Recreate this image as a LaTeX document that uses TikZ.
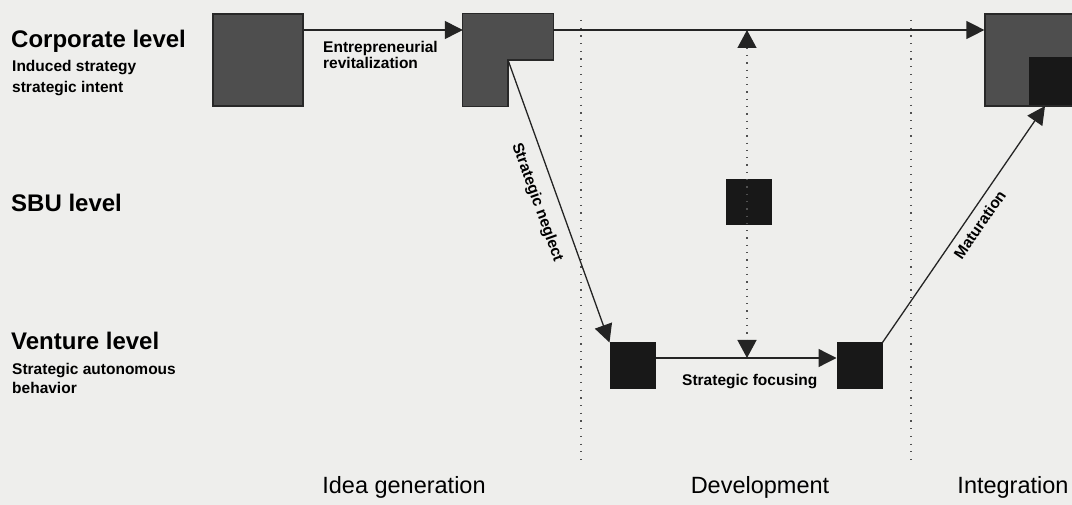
\documentclass[tikz,border=0pt]{standalone}
\usepackage{fontspec}
\setmainfont{Liberation Sans}
\usetikzlibrary{arrows.meta}
\definecolor{paper}{RGB}{238,238,236}
\definecolor{boxgrey}{RGB}{78,78,78}
\definecolor{boxedge}{RGB}{40,40,40}
\definecolor{boxdark}{RGB}{24,24,24}
\definecolor{ink}{RGB}{36,36,36}
\definecolor{dotink}{RGB}{80,80,80}
\begin{document}
\begin{tikzpicture}[x=1pt,y=-1pt,
  greybox/.style={draw=boxedge,fill=boxgrey,line width=1.2pt,inner sep=0pt},
  darkbox/.style={draw=boxdark,fill=boxdark,line width=1pt,inner sep=0pt},
  frame/.style={inner sep=0pt},
  flow/.style={draw=ink,line width=1.3pt,-{Triangle[length=18pt,width=18pt]}},
  probe/.style={draw=dotink,line width=1.3pt,dash pattern=on 1.3pt off 6pt,
    {Triangle[length=18pt,width=19pt,color=ink]}-{Triangle[length=18pt,width=19pt,color=ink]}},
  divider/.style={draw=dotink,line width=1.2pt,dash pattern=on 1.2pt off 6.5pt},
  level/.style={font=\bfseries\fontsize{24}{28}\selectfont,anchor=base west,inner sep=0pt},
  note/.style={font=\bfseries\fontsize{15.5}{18}\selectfont,anchor=base west,inner sep=0pt},
  phase/.style={font=\fontsize{23.5}{27}\selectfont,anchor=base,inner sep=0pt},
  tag/.style={font=\bfseries\fontsize{15.5}{18}\selectfont,inner sep=0pt}
]
\fill[paper] (0,0) rectangle (1072,505);
\useasboundingbox (0,0) rectangle (1072,505);

% level captions on the left
\node[level] (lcorp) at (11,48) {Corporate level};
\node[note]  (lcorp1) at (12,72) {Induced strategy};
\node[note]  (lcorp2) at (12,93) {strategic intent};
\node[level] (lsbu) at (11,212) {SBU level};
\node[level] (lvent) at (11,349) {Venture level};
\node[note]  (lvent1) at (12,374) {Strategic autonomous};
\node[note]  (lvent2) at (12,393) {behavior};

% phase dividers and phase names
\draw[divider] (581,20) -- (581,463);
\draw[divider] (911,20) -- (911,463);
\node[phase] (pidea) at (404,493) {Idea generation};
\node[phase] (pdev)  at (760,493) {Development};
\node[phase] (pint)  at (1013,493) {Integration};

% corporate level boxes
\node[greybox,minimum width=90pt,minimum height=92pt] (corp1) at (258,60) {};
\node[frame,minimum width=90pt,minimum height=92pt] (corp2) at (508,60) {};
\draw[greybox] (corp2.north west) -- (corp2.north east) -- (corp2.east)
  -- (corp2.center) -- (corp2.south) -- (corp2.south west) -- cycle;
\node[greybox,minimum width=100pt,minimum height=92pt] (corp3) at (1035,60) {};
\node[darkbox,minimum width=60pt,minimum height=47pt,anchor=north west] (corp3core) at (1029,57) {};

% SBU and venture level boxes
\node[darkbox,minimum width=45pt,minimum height=45pt] (sbu) at (749,202.5) {};
\node[darkbox,minimum width=45pt,minimum height=45pt] (vent1) at (632.5,365.5) {};
\node[darkbox,minimum width=45pt,minimum height=45pt] (vent2) at (859.5,365.5) {};

% connectors
\coordinate (matend) at (1045,106);
\coordinate (probetop) at (747,30);
\coordinate (probebot) at (747,358);
\draw[flow] ([yshift=30pt]corp1.east) -- ([yshift=30pt]corp2.west);
\draw[flow] ([yshift=30pt]corp2.east) -- ([yshift=30pt]corp3.west);
\draw[flow] (corp2.center) -- (vent1.north west)
  node[tag,pos=0.48,sloped,below=13pt] (lneglect) {Strategic neglect};
\draw[flow] ([yshift=7.5pt]vent1.east) -- ([yshift=7.5pt]vent2.west);
\draw[flow] (vent2.north east) -- (matend)
  node[tag,pos=0.53,sloped,below=7pt] (lmature) {Maturation};
\draw[probe] (probetop) -- (probebot);

% flow captions
\node[note] (lrevit1) at (323,53) {Entrepreneurial};
\node[note] (lrevit2) at (323,69) {revitalization};
\node[note] (lfocus) at (682,385) {Strategic focusing};
\end{tikzpicture}
\end{document}
